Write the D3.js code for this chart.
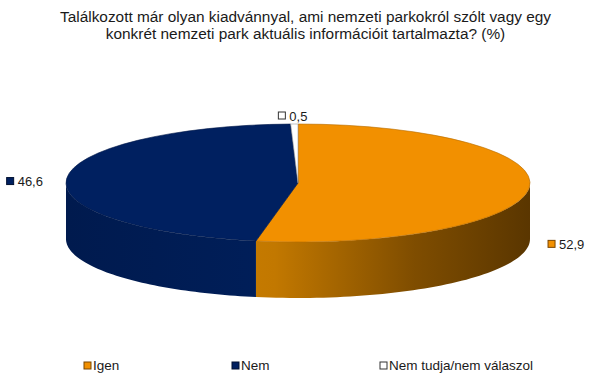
<!DOCTYPE html>
<html>
<head>
<meta charset="utf-8">
<script src="https://cdn.jsdelivr.net/npm/d3@7"></script>
<style>
  body { margin: 0; background: #fff; }
  text { font-family: "Liberation Sans", Arial, sans-serif; fill: #1a1a1a; }
</style>
</head>
<body>
<svg id="chart"></svg>
<script>
// Chart dimensions
const width = 593;
const height = 387;

// data
const titleLines = [
  "Találkozott már olyan kiadvánnyal, ami nemzeti parkokról szólt vagy egy",
  "konkrét nemzeti park aktuális információit tartalmazta? (%)"
];
const categories = ["Igen", "Nem", "Nem tudja/nem válaszol"];
const values = [52.9, 46.6, 0.5];
const valueLabels = ["52,9", "46,6", "0,5"];
const topColors = ["#f29000", "#002060", "#ffffff"];

// pie geometry
const cx = 298, cy = 183;
const rx = 232, ry = 59;
const depth = 56;

const svg = d3.select("#chart").attr("width", width).attr("height", height);

// gradients for the side walls
const defs = svg.append("defs");
const wallStops = [
  [[0, "#d98a00"], [0.45, "#c27800"], [0.75, "#7f4d00"], [1, "#5a3600"]],
  [[0, "#001a4e"], [0.5, "#001f5b"], [1, "#00215e"]],
  [[0, "#d8d8d8"], [1, "#bbbbbb"]]
];
wallStops.forEach((stops, i) => {
  const g = defs.append("linearGradient")
    .attr("id", "wall" + i)
    .attr("gradientUnits", "userSpaceOnUse")
    .attr("x1", cx - rx).attr("x2", cx + rx)
    .attr("y1", 0).attr("y2", 0);
  stops.forEach(s => g.append("stop").attr("offset", s[0]).attr("stop-color", s[1]));
});

// TITLE
svg.append("g")
  .selectAll("text")
  .data(titleLines)
  .join("text")
  .attr("x", width / 2 + 9)
  .attr("y", (d, i) => 22 + i * 17)
  .attr("text-anchor", "middle")
  .attr("font-size", "15.4px")
  .text(d => d);

// PIE layout (clockwise from 12 o'clock)
const pie = d3.pie().sort(null).value(d => d)(values);

// ellipse point for an angle measured clockwise from top
const px = a => cx + rx * Math.sin(a);
const py = a => cy - ry * Math.cos(a);

// SIDE WALLS (only the front half is visible)
const line = d3.line();
pie.forEach((p, i) => {
  const a0 = Math.max(p.startAngle, Math.PI / 2);
  const a1 = Math.min(p.endAngle, Math.PI * 1.5);
  if (a1 <= a0) return;
  const steps = d3.range(0, 61).map(k => a0 + (a1 - a0) * k / 60);
  const topPts = steps.map(a => [px(a), py(a)]);
  const botPts = steps.slice().reverse().map(a => [px(a), py(a) + depth]);
  svg.append("path")
    .attr("d", line(topPts.concat(botPts)) + "Z")
    .attr("fill", `url(#wall${i})`)
    .attr("stroke", "none");
});

// TOP FACE
const arc = d3.arc().innerRadius(0).outerRadius(rx);
svg.append("g")
  .attr("transform", `translate(${cx},${cy}) scale(1,${ry / rx})`)
  .selectAll("path")
  .data(pie)
  .join("path")
  .attr("d", arc)
  .attr("fill", (d, i) => topColors[i])
  .attr("stroke", (d, i) => i === 2 ? "#999" : d3.color(topColors[i]).darker(0.8))
  .attr("stroke-width", 0.6)
  .attr("vector-effect", "non-scaling-stroke");

// VALUE LABELS
const labels = svg.append("g");
pie.forEach((p, i) => {
  const mid = (p.startAngle + p.endAngle) / 2;
  const x = px(mid), y = py(mid);
  let mx, my;
  if (Math.cos(mid) > 0.9) {          // near the top: above the rim
    mx = x - 16; my = y - 8;
  } else if (Math.sin(mid) > 0) {     // right side: beside the wall
    mx = x + 19; my = y + depth;
  } else {                            // left side
    mx = x - 60; my = y + 3;
  }
  labels.append("rect")
    .attr("x", mx).attr("y", my - 4)
    .attr("width", 7).attr("height", 7)
    .attr("fill", topColors[i])
    .attr("stroke", i === 0 ? "#7a4600" : i === 1 ? "#001030" : "#333")
    .attr("stroke-width", 1);
  labels.append("text")
    .attr("x", mx + 11).attr("y", my + 4.5)
    .attr("font-size", "13px")
    .text(valueLabels[i]);
});

// LEGEND
const legendX = d3.scalePoint().domain(categories).range([84, 380]);
const legend = svg.append("g").attr("id", "legend");
categories.forEach((c, i) => {
  const x = legendX(c);
  legend.append("rect")
    .attr("x", x).attr("y", 362)
    .attr("width", 7).attr("height", 7)
    .attr("fill", topColors[i])
    .attr("stroke", i === 0 ? "#7a4600" : i === 1 ? "#001030" : "#333")
    .attr("stroke-width", 1);
  legend.append("text")
    .attr("x", x + 9).attr("y", 370)
    .attr("font-size", "13.5px")
    .text(c);
});
</script>
</body>
</html>
